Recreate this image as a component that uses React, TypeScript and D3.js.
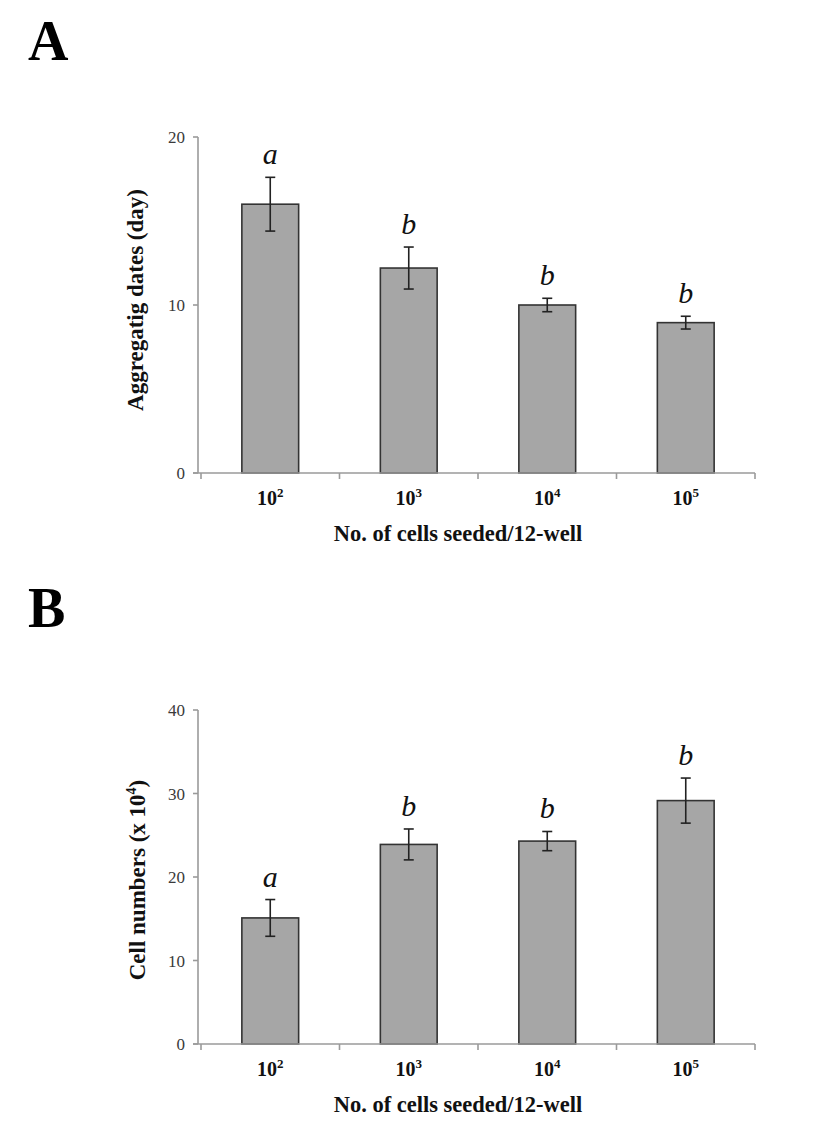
import React from "react";
import * as d3 from "d3";

const exponents = ["2", "3", "4", "5"];

const aggregDays = [16.0, 12.2, 10.0, 8.95];
const aggregErr = [1.6, 1.25, 0.4, 0.38];
const aggregLetters = ["a", "b", "b", "b"];
const aggregTicks = [0, 10, 20];

const cellNums = [15.1, 23.9, 24.3, 29.15];
const cellErr = [2.2, 1.85, 1.15, 2.7];
const cellLetters = ["a", "b", "b", "b"];
const cellTicks = [0, 10, 20, 30, 40];

const SERIF = "'Liberation Serif', 'Times New Roman', serif";

type PanelProps = {
  label: string;
  labelY: number;
  values: number[];
  errs: number[];
  letters: string[];
  ticks: number[];
  yMax: number;
  yTop: number;
  yBottom: number;
  yTitle: React.ReactNode;
  yTitleX: number;
  yTitleY: number;
};

function Panel(p: PanelProps) {
  const x = d3
    .scaleBand<string>()
    .domain(exponents)
    .range([201, 755])
    .paddingInner(0.59)
    .paddingOuter(0.295);
  const y = d3.scaleLinear().domain([0, p.yMax]).range([p.yBottom, p.yTop]);
  const axisX = 198;
  const step = x.step();
  const bounds = exponents.map((_, i) => 201 + i * step).concat([755]);
  const axisColor = "#9a9a9a";
  return (
    <g>
      <text x={28} y={p.labelY} fontFamily={SERIF} fontWeight="bold" fontSize={56} fill="#000">
        {p.label}
      </text>
      {/* bars */}
      {exponents.map((e, i) => (
        <rect
          key={"b" + e}
          x={x(e)!}
          y={y(p.values[i])}
          width={x.bandwidth()}
          height={y(0) - y(p.values[i])}
          fill="#a6a6a6"
          stroke="#333"
          strokeWidth={1.6}
        />
      ))}
      {/* y axis */}
      <line x1={axisX} x2={axisX} y1={y(p.yMax)} y2={y(0)} stroke={axisColor} strokeWidth={1.6} />
      {p.ticks.map((t) => (
        <g key={"t" + t}>
          <line x1={axisX - 5} x2={axisX} y1={y(t)} y2={y(t)} stroke={axisColor} strokeWidth={1.6} />
          <text
            x={axisX - 13}
            y={y(t) + 6}
            textAnchor="end"
            fontFamily={SERIF}
            fontSize={17}
            fill="#3a3a3a"
          >
            {t}
          </text>
        </g>
      ))}
      {/* x axis */}
      <line x1={193} x2={755} y1={y(0)} y2={y(0)} stroke={axisColor} strokeWidth={1.6} />
      {bounds.map((b, i) => (
        <line key={"xb" + i} x1={b} x2={b} y1={y(0)} y2={y(0) + 6} stroke={axisColor} strokeWidth={1.6} />
      ))}
      {/* error bars */}
      {exponents.map((e, i) => {
        const cx = x(e)! + x.bandwidth() / 2;
        const top = y(p.values[i] + p.errs[i]);
        const bot = y(p.values[i] - p.errs[i]);
        return (
          <g key={"e" + e} stroke="#222" strokeWidth={1.6}>
            <line x1={cx} x2={cx} y1={top} y2={bot} />
            <line x1={cx - 5} x2={cx + 5} y1={top} y2={top} />
            <line x1={cx - 5} x2={cx + 5} y1={bot} y2={bot} />
          </g>
        );
      })}
      {/* letters */}
      {exponents.map((e, i) => {
        const cx = x(e)! + x.bandwidth() / 2;
        const top = y(p.values[i] + p.errs[i]);
        return (
          <text
            key={"l" + e}
            x={cx}
            y={top - 13}
            textAnchor="middle"
            fontFamily={SERIF}
            fontStyle="italic"
            fontSize={30}
            fill="#111"
          >
            {p.letters[i]}
          </text>
        );
      })}
      {/* x tick labels */}
      {exponents.map((e) => {
        const cx = x(e)! + x.bandwidth() / 2;
        return (
          <text
            key={"xl" + e}
            x={cx}
            y={y(0) + 32}
            textAnchor="middle"
            fontFamily={SERIF}
            fontWeight="bold"
            fontSize={20}
            fill="#111"
          >
            10
            <tspan fontSize={13} dy={-8}>
              {e}
            </tspan>
          </text>
        );
      })}
      <text
        x={458}
        y={y(0) + 68}
        textAnchor="middle"
        fontFamily={SERIF}
        fontWeight="bold"
        fontSize={22.5}
        fill="#111"
      >
        No. of cells seeded/12-well
      </text>
      <text
        transform={`translate(${p.yTitleX},${p.yTitleY}) rotate(-90)`}
        textAnchor="middle"
        fontFamily={SERIF}
        fontWeight="bold"
        fontSize={23}
        fill="#111"
      >
        {p.yTitle}
      </text>
    </g>
  );
}

export default function App() {
  return (
    <svg
      width={827}
      height={1132}
      style={{ position: "absolute", left: 0, top: 0, display: "block", background: "#fff" }}
    >
      <rect x={0} y={0} width={827} height={1132} fill="#fff" />
      <Panel
        label="A"
        labelY={60}
        values={aggregDays}
        errs={aggregErr}
        letters={aggregLetters}
        ticks={aggregTicks}
        yMax={20}
        yTop={137}
        yBottom={473}
        yTitle="Aggregatig dates (day)"
        yTitleX={143}
        yTitleY={300}
      />
      <Panel
        label="B"
        labelY={627}
        values={cellNums}
        errs={cellErr}
        letters={cellLetters}
        ticks={cellTicks}
        yMax={40}
        yTop={710}
        yBottom={1044}
        yTitle={
          <>
            Cell numbers (x 10
            <tspan fontSize={14} dy={-9}>
              4
            </tspan>
            <tspan dy={9}>)</tspan>
          </>
        }
        yTitleX={145}
        yTitleY={880}
      />
    </svg>
  );
}
